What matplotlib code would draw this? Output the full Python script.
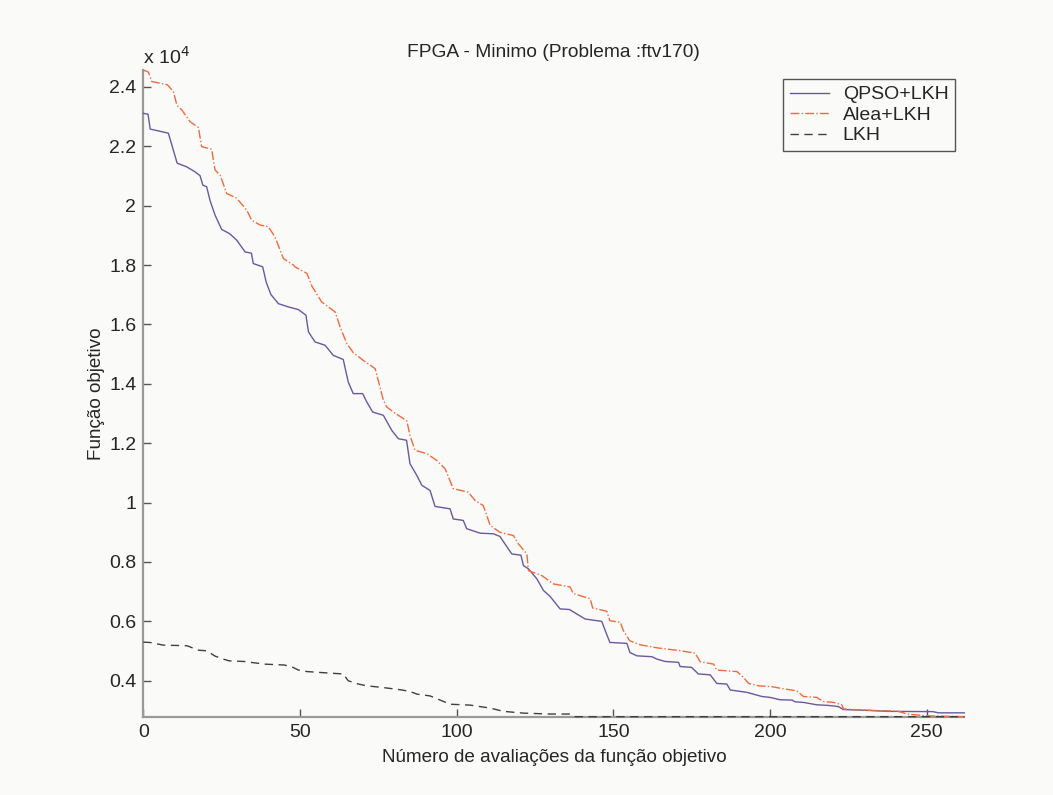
import matplotlib
matplotlib.use('Agg')
import matplotlib.pyplot as plt
from matplotlib.ticker import FuncFormatter

plt.rcParams['font.family'] = ['Liberation Sans', 'DejaVu Sans']

# leituras (em unidades de 10^4)
qpso_x = [0, 1.5, 2.2, 8, 10.8, 13.8, 16.5, 18.1, 19, 20.2, 21.3, 22.9, 25, 27.5, 29.8,
          32.5, 34.5, 35.1, 38.1, 39.2, 40.7, 43.1, 46.3, 49.5, 51.9, 52.7, 54.8, 58,
          60.6, 63.8, 65.4, 67, 70, 71.3, 73.2, 76.6, 79.3, 81.4, 84, 85.1, 87.3, 88.9,
          91.5, 93.1, 97.9, 98.9, 102.1, 103.2, 107.5, 111.7, 113.8, 115.4, 117.6, 120.5,
          121.3, 122.9, 125.6, 127.7, 129.8, 133, 136, 138.3, 141, 146.3, 147.4, 148.9,
          154.3, 155.3, 157.5, 162.3, 163.9, 166.5, 170.8, 171.3, 175, 177.1, 180.9, 183,
          186.2, 187.3, 192.6, 197.4, 200, 203.2, 207, 208, 210.7, 214.9, 218.6, 221.8,
          223.4, 229.8, 237.3, 252, 253.7, 262]
qpso_y = [2.311, 2.308, 2.258, 2.244, 2.143, 2.131, 2.114, 2.101, 2.069, 2.064, 2.017,
          1.968, 1.920, 1.906, 1.884, 1.844, 1.840, 1.805, 1.794, 1.743, 1.701, 1.670,
          1.659, 1.650, 1.631, 1.575, 1.541, 1.530, 1.496, 1.482, 1.406, 1.367, 1.367,
          1.339, 1.305, 1.294, 1.243, 1.215, 1.210, 1.131, 1.091, 1.058, 1.041, 0.987,
          0.979, 0.945, 0.940, 0.912, 0.897, 0.895, 0.886, 0.861, 0.827, 0.823, 0.788,
          0.777, 0.743, 0.704, 0.684, 0.642, 0.640, 0.625, 0.608, 0.600, 0.569, 0.529,
          0.526, 0.495, 0.484, 0.481, 0.473, 0.465, 0.462, 0.448, 0.445, 0.423, 0.420,
          0.391, 0.389, 0.369, 0.361, 0.347, 0.344, 0.336, 0.335, 0.329, 0.327, 0.319,
          0.317, 0.313, 0.303, 0.301, 0.297, 0.296, 0.292, 0.292]

alea_x = [0, 1.6, 2.7, 7.7, 9.6, 10.7, 12.3, 14.9, 17.6, 18.6, 21.8, 22.9, 24.5, 26.6,
          29.8, 33, 34.6, 37.2, 39.9, 42, 44.7, 47.9, 48.4, 52.2, 53.8, 56.9, 61.2, 62.8,
          64.9, 67, 70.2, 74, 76.6, 77.7, 79.8, 84.1, 85.1, 86.7, 90.5, 93.6, 96.3, 98.9,
          103.7, 105.9, 108.5, 110.7, 113.8, 118.1, 119.7, 122.4, 122.9, 127.2, 130.9,
          136.2, 137.2, 140.5, 142.6, 143.4, 147.9, 148.9, 152.2, 153.2, 155.2, 158.6,
          163.9, 170.8, 176.1, 177.7, 182, 183, 189.4, 191, 193.2, 196.3, 200.6, 203.2,
          208.5, 210.7, 214.9, 217, 220.3, 222.9, 223.4, 229.8, 236.2, 241, 243.7, 250, 262]
alea_y = [2.457, 2.450, 2.418, 2.407, 2.384, 2.339, 2.322, 2.283, 2.263, 2.199, 2.190,
          2.120, 2.103, 2.041, 2.025, 1.985, 1.951, 1.935, 1.929, 1.895, 1.822, 1.800,
          1.794, 1.772, 1.729, 1.676, 1.642, 1.592, 1.536, 1.505, 1.479, 1.451, 1.345,
          1.322, 1.305, 1.275, 1.226, 1.176, 1.165, 1.142, 1.114, 1.047, 1.035, 1.007,
          0.990, 0.923, 0.900, 0.889, 0.861, 0.827, 0.771, 0.754, 0.726, 0.716, 0.694,
          0.683, 0.676, 0.645, 0.634, 0.602, 0.597, 0.569, 0.535, 0.521, 0.511, 0.502,
          0.493, 0.464, 0.456, 0.436, 0.431, 0.417, 0.391, 0.383, 0.380, 0.375, 0.366,
          0.347, 0.344, 0.330, 0.327, 0.319, 0.305, 0.301, 0.299, 0.297, 0.288, 0.282, 0.279]

lkh_x = [0, 2.1, 6.4, 13.9, 17.6, 20.2, 22.9, 25.5, 27.4, 32, 38.8, 45, 47.8, 49.5, 52.2,
         60.6, 63.8, 65.4, 68.6, 71.3, 76.6, 81.9, 85.1, 87.3, 91.5, 94.7, 97.9, 104.3,
         110.7, 114.9, 121.3, 129.8, 136.2, 137.5, 262]
lkh_y = [0.530, 0.529, 0.520, 0.518, 0.503, 0.501, 0.483, 0.473, 0.467, 0.465, 0.456,
         0.453, 0.445, 0.436, 0.431, 0.425, 0.423, 0.400, 0.389, 0.383, 0.377, 0.370,
         0.364, 0.355, 0.349, 0.335, 0.321, 0.318, 0.308, 0.297, 0.291, 0.288, 0.288,
         0.279, 0.279]

escala = 1e4
bg = '#fafaf9'
txt = '#262626'
fig = plt.figure(figsize=(10.53, 7.95), dpi=100, facecolor=bg)
ax = fig.add_axes([0.1361, 0.0985, 0.7797, 0.8135], facecolor=bg)

ax.plot(qpso_x, [v * escala for v in qpso_y], '-', color='#6a58a0', lw=1.0,
        label='QPSO+LKH', zorder=3, clip_on=False)
ax.plot(alea_x, [v * escala for v in alea_y], '-.', color='#f26a3a', lw=1.0,
        label='Alea+LKH', zorder=3, clip_on=False)
ax.plot(lkh_x, [v * escala for v in lkh_y], '--', color='#404040', lw=1.0,
        dashes=(6, 4), label='LKH', zorder=3, clip_on=False)

ax.set_xlim(0, 262)
ax.set_ylim(0.279 * escala, 2.457 * escala)
ax.set_xticks([0, 50, 100, 150, 200, 250])
ax.set_yticks([v * escala for v in [0.4, 0.6, 0.8, 1.0, 1.2, 1.4, 1.6, 1.8, 2.0, 2.2, 2.4]])
ax.yaxis.set_major_formatter(FuncFormatter(lambda v, p: '%g' % round(v / escala, 2)))

for s in ['top', 'right']:
    ax.spines[s].set_visible(False)
for s in ['left', 'bottom']:
    ax.spines[s].set_color('#9a9a9a')
    ax.spines[s].set_linewidth(1.6)
ax.tick_params(direction='in', length=6, width=1, color='#555555',
               labelsize=14, labelcolor=txt, pad=5)

ax.set_title('FPGA - Minimo (Problema :ftv170)', fontsize=13.8, color=txt, pad=9)
ax.set_xlabel('Número de avaliações da função objetivo', fontsize=13.6, color=txt, labelpad=6)
ax.set_ylabel('Função objetivo', fontsize=13.6, color=txt, labelpad=3)
ax.text(0, 1.004, 'x 10$^{4}$', transform=ax.transAxes, ha='left', va='bottom',
        fontsize=14, color=txt)

leg = ax.legend(loc='upper right', bbox_to_anchor=(0.989, 0.986), borderaxespad=0,
                fontsize=14, fancybox=False, framealpha=1, edgecolor='#555555',
                handlelength=2.0, handletextpad=0.7, labelspacing=0.15, borderpad=0.35)
leg.get_frame().set_facecolor(bg)
leg.get_frame().set_linewidth(1.0)
leg.set_zorder(5)
for t in leg.get_texts():
    t.set_color(txt)

plt.savefig('out.png', dpi=100, facecolor=bg)
